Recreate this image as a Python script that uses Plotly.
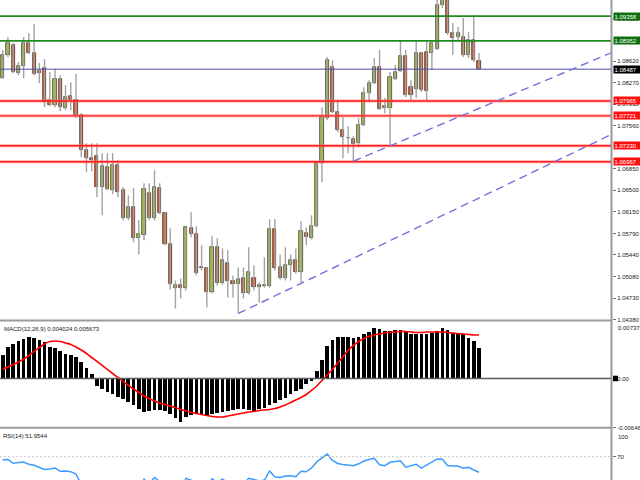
import plotly.graph_objects as go

# ---- EURUSD candles (open, high, low, close) ----
open_ = [1.08340, 1.08718, 1.08882, 1.08422, 1.08537, 1.08915, 1.08751, 1.08455, 1.08505, 1.07979,
         1.07896, 1.08324, 1.07847, 1.08044, 1.07979, 1.07732, 1.07157, 1.07025, 1.07058, 1.06549,
         1.06878, 1.06500, 1.06910, 1.06500, 1.06039, 1.06220, 1.05711, 1.05760, 1.06450, 1.06039,
         1.06532, 1.06122, 1.05612, 1.04889, 1.04938, 1.04889, 1.05875, 1.05776, 1.05234, 1.05218,
         1.04823, 1.05563, 1.04971, 1.05300, 1.05004, 1.04955, 1.05053, 1.04807, 1.05053, 1.04938,
         1.04922, 1.04922, 1.05859, 1.05234, 1.05053, 1.05267, 1.05349, 1.05152, 1.05793, 1.05711,
         1.05908, 1.06943, 1.07683, 1.08521, 1.07781, 1.07486, 1.07354, 1.07338, 1.07272, 1.07568,
         1.08094, 1.08258, 1.08521, 1.07847, 1.07847, 1.08324, 1.08455, 1.08702, 1.08192, 1.08159,
         1.08751, 1.08767, 1.08751, 1.08817, 1.09540, 1.09638, 1.09080, 1.09014, 1.09014, 1.08718,
         1.08965, 1.08620]
high = [1.08800, 1.09014, 1.08915, 1.08603, 1.09014, 1.09080, 1.09228, 1.08587, 1.08652, 1.08439,
        1.08488, 1.08389, 1.08225, 1.08274, 1.08406, 1.07765, 1.07272, 1.07272, 1.07272, 1.07108,
        1.07108, 1.07108, 1.06993, 1.06549, 1.06417, 1.06532, 1.06007, 1.06615, 1.06615, 1.06828,
        1.06615, 1.06138, 1.05875, 1.05021, 1.05053, 1.05900, 1.06138, 1.05908, 1.05596, 1.05234,
        1.05744, 1.05711, 1.05546, 1.05514, 1.05103, 1.05234, 1.05234, 1.05563, 1.05267, 1.04988,
        1.05399, 1.06023, 1.06023, 1.05448, 1.05563, 1.05448, 1.05546, 1.05990, 1.05892, 1.06089,
        1.06955, 1.07864, 1.08685, 1.08636, 1.07979, 1.07699, 1.07551, 1.07387, 1.07683, 1.08192,
        1.08307, 1.08669, 1.08800, 1.08012, 1.08439, 1.08554, 1.08965, 1.08800, 1.08307, 1.08965,
        1.08767, 1.08965, 1.08965, 1.09680, 1.09720, 1.09700, 1.09244, 1.09178, 1.09326, 1.09096,
        1.09375, 1.08751]
low = [1.08324, 1.08685, 1.08422, 1.08389, 1.08340, 1.08735, 1.08389, 1.08258, 1.07864, 1.07880,
       1.07864, 1.07798, 1.07814, 1.07814, 1.07683, 1.07042, 1.06795, 1.06812, 1.06385, 1.06089,
       1.06500, 1.06434, 1.06385, 1.06007, 1.06007, 1.05645, 1.05448, 1.05678, 1.06007, 1.06007,
       1.06105, 1.05596, 1.04873, 1.04560, 1.04725, 1.04856, 1.05727, 1.05103, 1.05185, 1.04577,
       1.04807, 1.04938, 1.04955, 1.04741, 1.04741, 1.04478, 1.04725, 1.04790, 1.04856, 1.04659,
       1.04905, 1.04905, 1.05185, 1.05037, 1.05021, 1.05021, 1.05136, 1.04988, 1.05596, 1.05694,
       1.05892, 1.06631, 1.07650, 1.07765, 1.07453, 1.07025, 1.07108, 1.06976, 1.07206, 1.07551,
       1.07946, 1.08242, 1.07814, 1.07765, 1.07239, 1.08307, 1.08439, 1.08028, 1.07979, 1.08012,
       1.08110, 1.07979, 1.08472, 1.08800, 1.09491, 1.09047, 1.08718, 1.08965, 1.08685, 1.08669,
       1.08603, 1.08472]
close = [1.08718, 1.08915, 1.08439, 1.08537, 1.08915, 1.08751, 1.08406, 1.08422, 1.07946, 1.07896,
         1.08324, 1.07864, 1.08028, 1.07979, 1.07732, 1.07157, 1.07025, 1.06993, 1.06549, 1.06894,
         1.06516, 1.06910, 1.06467, 1.06039, 1.06220, 1.05711, 1.05776, 1.06516, 1.06039, 1.06549,
         1.06122, 1.05612, 1.04955, 1.04938, 1.04889, 1.05892, 1.05776, 1.05136, 1.05218, 1.04823,
         1.05563, 1.04971, 1.05349, 1.05004, 1.04955, 1.05037, 1.04807, 1.05152, 1.04905, 1.04905,
         1.04938, 1.05859, 1.05218, 1.05053, 1.05267, 1.05349, 1.05152, 1.05826, 1.05727, 1.05908,
         1.06943, 1.07699, 1.08636, 1.07781, 1.07486, 1.07371, 1.07350, 1.07256, 1.07568, 1.08094,
         1.08258, 1.08521, 1.07831, 1.07880, 1.08357, 1.08439, 1.08702, 1.08061, 1.08061, 1.08751,
         1.08143, 1.08127, 1.08915, 1.09540, 1.09655, 1.09080, 1.08998, 1.09080, 1.08718, 1.08965,
         1.08636, 1.08487]

# ---- MACD(12,26,9): main histogram and signal line ----
macd_main = [0.00313, 0.00414, 0.00453, 0.00496, 0.00522, 0.00539, 0.00531, 0.00509, 0.00474, 0.00414,
             0.00401, 0.00356, 0.00323, 0.00304, 0.00278, 0.00218, 0.00140, 0.00052, -0.00100, -0.00131,
             -0.00174, -0.00209, -0.00244, -0.00274, -0.00304, -0.00349, -0.00405, -0.00435, -0.00427, -0.00418,
             -0.00418, -0.00427, -0.00470, -0.00514, -0.00566, -0.00505, -0.00479, -0.00470, -0.00479, -0.00492,
             -0.00470, -0.00457, -0.00440, -0.00427, -0.00418, -0.00405, -0.00405, -0.00409, -0.00427, -0.00405,
             -0.00383, -0.00349, -0.00318, -0.00287, -0.00252, -0.00209, -0.00166, -0.00131, -0.00078, -0.00035,
             0.00095, 0.00239, 0.00422, 0.00509, 0.00539, 0.00539, 0.00539, 0.00531, 0.00539, 0.00575,
             0.00610, 0.00653, 0.00640, 0.00618, 0.00618, 0.00627, 0.00636, 0.00610, 0.00584, 0.00575,
             0.00575, 0.00575, 0.00597, 0.00618, 0.00653, 0.00627, 0.00597, 0.00588, 0.00575, 0.00531,
             0.00487, 0.004024]
macd_signal = [0.00124, 0.00150, 0.00183, 0.00215, 0.00255, 0.00300, 0.00353, 0.00405, 0.00451, 0.00483,
               0.00490, 0.00483, 0.00464, 0.00444, 0.00411, 0.00372, 0.00326, 0.00274, 0.00222, 0.00170,
               0.00118, 0.00065, 0.00013, -0.00039, -0.00091, -0.00137, -0.00183, -0.00229, -0.00261, -0.00294,
               -0.00320, -0.00340, -0.00359, -0.00379, -0.00405, -0.00424, -0.00444, -0.00457, -0.00470, -0.00483,
               -0.00496, -0.00503, -0.00503, -0.00490, -0.00477, -0.00464, -0.00451, -0.00437, -0.00431, -0.00418,
               -0.00411, -0.00405, -0.00392, -0.00372, -0.00346, -0.00313, -0.00281, -0.00248, -0.00209, -0.00157,
               -0.00098, -0.00026, 0.00046, 0.00118, 0.00202, 0.00287, 0.00366, 0.00431, 0.00483, 0.00522,
               0.00548, 0.00568, 0.00581, 0.00594, 0.00601, 0.00607, 0.00614, 0.00614, 0.00607, 0.00601,
               0.00601, 0.00607, 0.00607, 0.00607, 0.00607, 0.00601, 0.00594, 0.00588, 0.00581, 0.00575,
               0.00568, 0.005673]

# ---- RSI(14) ----
rsi = [66.4, 66.8, 62.4, 63.3, 63.9, 61.2, 60.1, 57.5, 55.2, 55.8,
       56.9, 53.1, 53.5, 52.7, 50.0, 38.0, 36.0, 35.0, 31.0, 38.0,
       34.0, 41.0, 36.0, 31.0, 35.0, 30.0, 31.0, 44.0, 39.0, 46.0,
       41.0, 35.0, 28.0, 29.0, 28.5, 45.0, 43.0, 37.0, 38.0, 34.0,
       44.5, 40.0, 44.0, 40.0, 39.5, 40.5, 38.0, 45.0, 43.5, 42.0,
       43.0, 53.5, 46.5, 46.0, 47.7, 48.0, 46.8, 53.1, 52.5, 57.0,
       64.0, 69.1, 73.1, 65.6, 62.2, 61.0, 60.1, 59.6, 61.8, 65.0,
       66.8, 68.2, 60.6, 59.6, 63.5, 64.5, 65.3, 57.9, 59.3, 61.2,
       56.7, 60.5, 64.5, 67.4, 67.0, 59.8, 59.3, 59.3, 56.6, 57.8,
       54.6, 51.9544]

# ---- Horizontal levels and trend lines ----
green_levels = [1.09358, 1.08952]
red_levels = [1.07965, 1.07721, 1.07230, 1.06967]
last_price = 1.08487
trend_lines = [
    ((45, 1.04478), (116.4, 1.07420)),
    ((67, 1.06976), (116.4, 1.08760)),
]

price_ticks = [1.04380, 1.04730, 1.05080, 1.05440, 1.05790, 1.06150, 1.06500, 1.06850,
               1.07560, 1.07910, 1.08270, 1.08620, 1.09320]
macd_max, macd_min = 0.007376, -0.006465
rsi_levels = [70]

# ---- Layout geometry (pixels of a 640x480 canvas) ----
W, H = 640, 480
AXIS_X = 612
X_RANGE = [-0.516, 116.41]
MAIN_RANGE = [1.04363, 1.09622]

def py(pix):
    return 1 - pix / H

n = len(close)
xs = list(range(n))

fig = go.Figure()

# wicks
wx, wy = [], []
for i, (h, l) in enumerate(zip(high, low)):
    wx += [i, i, None]
    wy += [l, h, None]
fig.add_trace(go.Scatter(x=wx, y=wy, mode="lines", line=dict(color="#a2a2a2", width=1.4),
                         hoverinfo="skip", xaxis="x", yaxis="y"))

# candle bodies
UP, DOWN = "#a6c52a", "#e2561c"
body_base = [min(o, c) for o, c in zip(open_, close)]
body_len = [max(abs(c - o), 0.00002) for o, c in zip(open_, close)]
body_col = [UP if c >= o else DOWN for o, c in zip(open_, close)]
fig.add_trace(go.Bar(x=xs, y=body_len, base=body_base, width=0.6,
                     marker=dict(color=body_col, line=dict(color="#2e2e2e", width=0.7)),
                     xaxis="x", yaxis="y"))

# MACD histogram + signal
fig.add_trace(go.Bar(x=xs, y=macd_main, width=0.7, marker=dict(color="#000000", line=dict(width=0)),
                     xaxis="x2", yaxis="y2"))
fig.add_trace(go.Scatter(x=xs, y=macd_signal, mode="lines", line=dict(color="#ff0000", width=1.6, shape="spline"),
                         xaxis="x2", yaxis="y2"))

# RSI line
fig.add_trace(go.Scatter(x=xs, y=rsi, mode="lines", line=dict(color="#3d9bff", width=1.5),
                         xaxis="x3", yaxis="y3"))

shapes = []
xr = AXIS_X / W
for lv in green_levels:
    shapes.append(dict(type="line", xref="paper", yref="y", x0=0, x1=xr, y0=lv, y1=lv,
                       line=dict(color="#1f8a1f", width=1.6)))
for lv in red_levels:
    shapes.append(dict(type="line", xref="paper", yref="y", x0=0, x1=xr, y0=lv, y1=lv,
                       line=dict(color="rgba(255,110,110,0.45)", width=3.5)))
    shapes.append(dict(type="line", xref="paper", yref="y", x0=0, x1=xr, y0=lv, y1=lv,
                       line=dict(color="#ff1a1a", width=1.4)))
shapes.append(dict(type="line", xref="paper", yref="y", x0=0, x1=xr, y0=last_price, y1=last_price,
                   line=dict(color="#4b4ba8", width=1)))
for (x0, y0), (x1, y1) in trend_lines:
    shapes.append(dict(type="line", xref="x", yref="y", x0=x0, y0=y0, x1=x1, y1=y1,
                       line=dict(color="#7272dc", width=1.4, dash="8px,5px")))

# MACD zero line, RSI level lines
shapes.append(dict(type="line", xref="paper", yref="y2", x0=0, x1=xr, y0=0, y1=0,
                   line=dict(color="#5a5a5a", width=1.6)))
for lv in rsi_levels:
    shapes.append(dict(type="line", xref="paper", yref="y3", x0=0, x1=xr, y0=lv, y1=lv,
                       line=dict(color="#c4c4c4", width=1, dash="2px,2px")))

# window separators and price scale border
for yp in (320.5, 427.8):
    shapes.append(dict(type="line", xref="paper", yref="paper", x0=0, x1=xr, y0=py(yp), y1=py(yp),
                       line=dict(color="#9a9a9a", width=2)))
shapes.append(dict(type="line", xref="paper", yref="paper", x0=(AXIS_X - 0.5) / W, x1=(AXIS_X - 0.5) / W,
                   y0=0, y1=1, line=dict(color="#9a9a9a", width=2)))
# marker at the MACD zero label
shapes.append(dict(type="rect", xref="paper", yref="y2", x0=613 / W, x1=618 / W,
                   y0=-0.00036, y1=0.00036, line=dict(width=0), fillcolor="#000000"))

ann = []
FONT = "Liberation Sans"

def level_box(val, bg):
    return dict(xref="paper", yref="y", x=(AXIS_X + 0.5) / W, y=val, xanchor="left", yanchor="middle",
                text="%.5f" % val, showarrow=False, bgcolor=bg, borderpad=0.5, width=27, align="left",
                font=dict(family=FONT, size=6, color="#ffffff"))

for lv in green_levels:
    ann.append(level_box(lv, "#0d6f0d"))
for lv in red_levels:
    ann.append(level_box(lv, "#ff1010"))
ann.append(level_box(last_price, "#000000"))

ann.append(dict(xref="paper", yref="y2", x=616 / W, y=macd_max, xanchor="left", yanchor="top", yshift=-1,
                text="%.6f" % macd_max, showarrow=False, font=dict(family=FONT, size=6, color="#202020")))
ann.append(dict(xref="paper", yref="y3", x=616 / W, y=100, xanchor="left", yanchor="top", yshift=-1,
                text="100", showarrow=False, font=dict(family=FONT, size=6, color="#202020")))
ann.append(dict(xref="paper", yref="paper", x=2 / W, y=py(329), xanchor="left", yanchor="middle",
                text="MACD(12,26,9) %.6f %.6f" % (macd_main[-1], macd_signal[-1]), showarrow=False,
                font=dict(family=FONT, size=6, color="#202020")))
ann.append(dict(xref="paper", yref="paper", x=1 / W, y=py(435.5), xanchor="left", yanchor="middle",
                text="RSI(14) %.4f" % rsi[-1], showarrow=False,
                font=dict(family=FONT, size=6, color="#202020")))

tickfont = dict(family=FONT, size=6, color="#202020")
xcommon = dict(domain=[0, xr], range=X_RANGE, visible=False, showgrid=False, zeroline=False, fixedrange=True)
ycommon = dict(side="right", showgrid=False, zeroline=False, showline=False, ticks="outside", ticklen=3,
               tickwidth=1, tickcolor="#707070", tickfont=tickfont, automargin=False, fixedrange=True)

fig.update_layout(
    width=W, height=H, margin=dict(l=0, r=0, t=0, b=0),
    paper_bgcolor="#ffffff", plot_bgcolor="#ffffff", showlegend=False,
    bargap=0, template="none",
    xaxis=dict(xcommon, anchor="y"),
    xaxis2=dict(xcommon, anchor="y2"),
    xaxis3=dict(xcommon, anchor="y3"),
    yaxis=dict(ycommon, anchor="x", domain=[py(320.5), 1], range=MAIN_RANGE,
               tickvals=price_ticks, ticktext=["%.5f" % v for v in price_ticks]),
    yaxis2=dict(ycommon, anchor="x2", domain=[py(428), py(322)], range=[macd_min - 0.000004, macd_max],
                tickvals=[0, macd_min], ticktext=["0.00", "%.6f" % macd_min]),
    yaxis3=dict(ycommon, anchor="x3", domain=[0, py(430.8)], range=[43.06, 100],
                tickvals=rsi_levels, ticktext=[str(v) for v in rsi_levels]),
    shapes=shapes, annotations=ann,
)

fig.write_html("out.html")
